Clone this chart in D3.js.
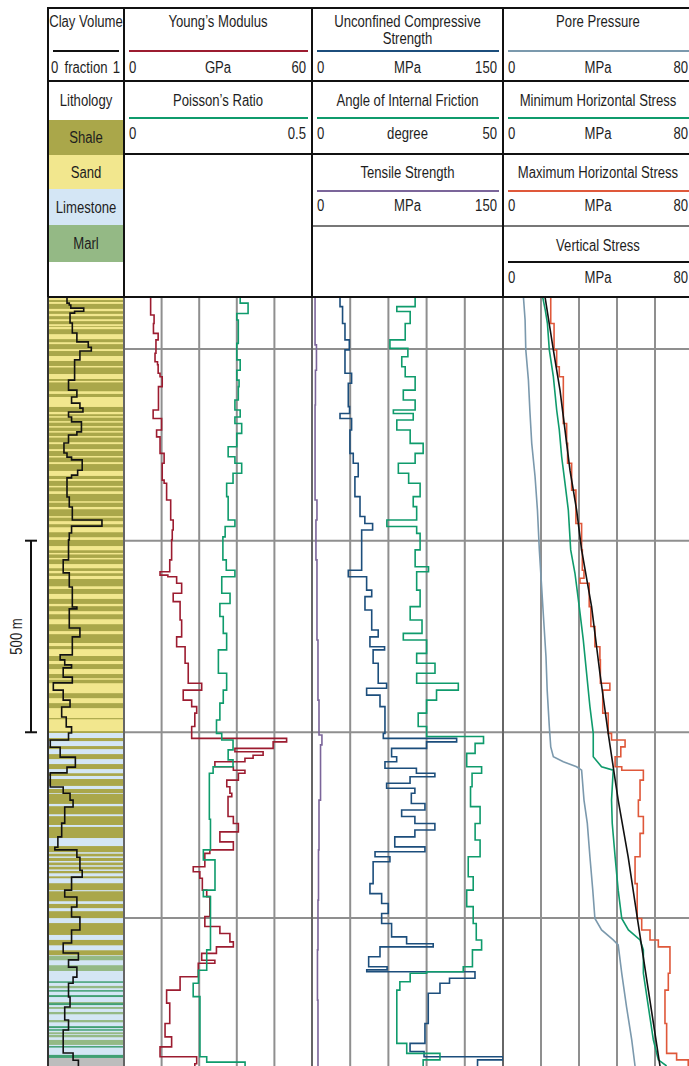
<!DOCTYPE html>
<html>
<head>
<meta charset="utf-8">
<script src="https://cdn.jsdelivr.net/npm/d3@7"></script>
<style>
  body { margin: 0; background: #fff; }
  svg text { font-family: "Liberation Sans", Arial, sans-serif; font-size: 16px; fill: #1e1e1e; }
</style>
</head>
<body>
<svg id="chart" width="689" height="1066"></svg>
<script>
// depth range of the log (m) and grid depths
const depthRange = [864, 2871];
const gridDepths = [1000, 1500, 2000, 2485];
const scaleBar = [1500, 2000];

// lithology: [top, base, type] (later entries drawn on top)
const lithoLegend = ["Shale", "Sand", "Limestone", "Marl"];
const lithology = [
  [860, 2002, "Shale"], [2002, 2850, "Limestone"], [2850, 2880, "None"],
  [864, 872, "Sand"], [877, 882, "Sand"], [895, 901, "Sand"], [908, 914, "Sand"], [922, 927, "Sand"],
  [935, 940, "Sand"], [942, 948, "Sand"], [961, 974, "Sand"], [982, 987, "Sand"], [1000, 1005, "Sand"],
  [1018, 1031, "Sand"], [1044, 1047, "Sand"], [1065, 1078, "Sand"], [1083, 1086, "Sand"], [1110, 1117, "Sand"],
  [1125, 1151, "Sand"], [1164, 1170, "Sand"], [1175, 1177, "Sand"], [1188, 1190, "Sand"], [1201, 1203, "Sand"],
  [1214, 1217, "Sand"], [1227, 1230, "Sand"], [1243, 1248, "Sand"], [1261, 1266, "Sand"], [1279, 1282, "Sand"],
  [1295, 1300, "Sand"], [1318, 1331, "Sand"], [1339, 1344, "Sand"], [1357, 1360, "Sand"], [1371, 1378, "Sand"],
  [1397, 1399, "Sand"], [1412, 1418, "Sand"], [1436, 1438, "Sand"], [1449, 1457, "Sand"], [1465, 1478, "Sand"],
  [1491, 1498, "Sand"], [1514, 1525, "Sand"], [1532, 1535, "Sand"], [1545, 1548, "Sand"], [1561, 1572, "Sand"],
  [1579, 1585, "Sand"], [1592, 1600, "Sand"], [1619, 1626, "Sand"], [1639, 1652, "Sand"], [1665, 1671, "Sand"],
  [1684, 1692, "Sand"], [1705, 1718, "Sand"], [1736, 1744, "Sand"], [1767, 1775, "Sand"], [1783, 1801, "Sand"],
  [1814, 1822, "Sand"], [1835, 1848, "Sand"], [1859, 1861, "Sand"], [1872, 1898, "Sand"], [1911, 1924, "Sand"],
  [1937, 1963, "Sand"], [1966, 1997, "Sand"],
  [2015, 2023, "Shale"], [2036, 2044, "Shale"], [2057, 2070, "Shale"], [2083, 2096, "Shale"], [2107, 2114, "Shale"],
  [2122, 2140, "Shale"], [2148, 2159, "Shale"], [2161, 2187, "Shale"], [2193, 2214, "Shale"], [2219, 2242, "Shale"],
  [2247, 2276, "Shale"], [2297, 2368, "Shale"], [2313, 2315, "Limestone"], [2324, 2326, "Limestone"],
  [2336, 2338, "Limestone"], [2347, 2349, "Limestone"], [2358, 2360, "Limestone"],
  [2376, 2381, "Shale"], [2394, 2412, "Shale"], [2415, 2441, "Shale"],
  [2448, 2459, "Shale"], [2467, 2485, "Shale"], [2498, 2529, "Shale"], [2542, 2556, "Shale"], [2569, 2582, "Shale"],
  [2584, 2595, "Marl"], [2608, 2623, "Marl"], [2662, 2668, "Marl"], [2704, 2709, "Marl"], [2717, 2722, "Marl"],
  [2730, 2736, "Marl"], [2751, 2757, "Marl"], [2783, 2788, "Marl"], [2790, 2796, "Marl"], [2803, 2816, "Marl"],
  [2650, 2652, "DarkMarl"], [2673, 2676, "DarkMarl"], [2686, 2691, "DarkMarl"], [2707, 2712, "DarkMarl"],
  [2767, 2772, "DarkMarl"], [2775, 2777, "DarkMarl"], [2819, 2822, "DarkMarl"], [2842, 2850, "DarkMarl"]
];
const lithoColors = { Shale: "#aaa74a", Sand: "#f2e78e", Limestone: "#d4e6f5", Marl: "#94b985", DarkMarl: "#41a073", None: "#bdbdbd" };

// curves: [depth (m), value]
const clayVolume = [
  [864, 0.25], [880, 0.28], [885, 0.30], [893, 0.47], [901, 0.35], [906, 0.29], [932, 0.32], [958, 0.38],
  [981, 0.53], [995, 0.57], [1005, 0.42], [1028, 0.35], [1081, 0.27], [1107, 0.38], [1125, 0.31], [1141, 0.42],
  [1154, 0.46], [1164, 0.27], [1177, 0.31], [1190, 0.44], [1216, 0.38], [1224, 0.27], [1245, 0.21], [1271, 0.25],
  [1282, 0.31], [1289, 0.45], [1316, 0.39], [1329, 0.31], [1336, 0.25], [1386, 0.28], [1412, 0.32], [1446, 0.71],
  [1462, 0.31], [1480, 0.28], [1498, 0.27], [1550, 0.20], [1584, 0.28], [1621, 0.32], [1673, 0.38], [1678, 0.28],
  [1728, 0.42], [1751, 0.32], [1798, 0.16], [1811, 0.22], [1824, 0.31], [1832, 0.20], [1856, 0.32], [1871, 0.07],
  [1890, 0.20], [1916, 0.29], [1934, 0.18], [1960, 0.24], [1986, 0.31], [2002, 0.27], [2020, 0.03], [2039, 0.16],
  [2065, 0.36], [2091, 0.25], [2106, 0.03], [2143, 0.20], [2159, 0.29], [2177, 0.33], [2195, 0.22], [2237, 0.18],
  [2273, 0.13], [2300, 0.09], [2307, 0.38], [2326, 0.42], [2360, 0.45], [2378, 0.31], [2412, 0.22], [2430, 0.38],
  [2456, 0.31], [2482, 0.42], [2516, 0.31], [2550, 0.20], [2576, 0.40], [2594, 0.27], [2613, 0.38], [2639, 0.33],
  [2655, 0.27], [2691, 0.29], [2717, 0.22], [2751, 0.27], [2777, 0.20], [2837, 0.33], [2856, 0.40], [2871, 0.40]
];
const youngsModulus = [
  [864, 8.5], [911, 9.6], [933, 9.4], [959, 10.9], [976, 10.2], [1011, 9.9], [1033, 10.7], [1041, 10.9],
  [1063, 11.5], [1072, 12.2], [1098, 11.0], [1159, 9.3], [1181, 12.0], [1211, 10.4], [1229, 11.5], [1272, 12.8],
  [1298, 12.2], [1342, 12.8], [1350, 13.6], [1394, 14.9], [1446, 15.7], [1472, 15.4], [1498, 15.2], [1550, 14.6],
  [1581, 11.5], [1590, 14.0], [1594, 16.8], [1611, 18.4], [1637, 15.7], [1659, 17.9], [1707, 18.4], [1751, 16.8],
  [1777, 19.5], [1820, 20.5], [1872, 24.8], [1890, 18.9], [1916, 21.6], [1933, 23.2], [1950, 22.6], [1985, 21.6],
  [2016, 51.9], [2025, 47.6], [2042, 35.4], [2051, 44.4], [2060, 41.2], [2068, 38.6], [2077, 29.0], [2090, 34.9],
  [2099, 38.6], [2107, 36.5], [2125, 32.8], [2142, 33.8], [2159, 34.4], [2168, 33.2], [2220, 34.9], [2238, 36.5],
  [2260, 30.6], [2286, 34.9], [2307, 27.4], [2316, 25.8], [2351, 22.1], [2364, 24.2], [2381, 25.0], [2412, 26.4],
  [2429, 27.4], [2481, 25.8], [2507, 30.6], [2525, 33.8], [2547, 34.9], [2560, 29.5], [2577, 24.8], [2595, 29.0],
  [2603, 23.7], [2638, 17.9], [2673, 13.6], [2707, 14.6], [2760, 13.1], [2795, 15.2], [2821, 11.5], [2847, 23.2],
  [2865, 22.6], [2871, 22.6]
];
const poissonsRatio = [
  [864, 0.309], [880, 0.33], [907, 0.30], [924, 0.304], [985, 0.30], [1028, 0.309], [1055, 0.30], [1081, 0.306],
  [1098, 0.304], [1133, 0.295], [1159, 0.309], [1177, 0.295], [1194, 0.313], [1220, 0.30], [1255, 0.277],
  [1281, 0.295], [1298, 0.313], [1324, 0.29], [1350, 0.273], [1385, 0.277], [1446, 0.295], [1463, 0.269],
  [1490, 0.263], [1550, 0.272], [1577, 0.295], [1594, 0.26], [1637, 0.282], [1664, 0.255], [1698, 0.264],
  [1742, 0.273], [1785, 0.251], [1846, 0.273], [1890, 0.264], [1924, 0.255], [1968, 0.246], [2003, 0.26],
  [2020, 0.29], [2046, 0.277], [2072, 0.29], [2090, 0.237], [2107, 0.227], [2227, 0.23], [2307, 0.211],
  [2333, 0.242], [2412, 0.211], [2429, 0.23], [2568, 0.22], [2621, 0.198], [2655, 0.184], [2690, 0.202],
  [2847, 0.22], [2861, 0.322], [2871, 0.322]
];
const ucs = [
  [864, 22], [889, 24], [933, 25.9], [976, 29.3], [1002, 25.9], [1063, 31.1], [1089, 28.5], [1150, 29.5],
  [1168, 22], [1181, 31.1], [1211, 29.8], [1272, 32.4], [1298, 36.3], [1333, 33.7], [1385, 37.7], [1437, 41.5],
  [1455, 47.6], [1472, 39], [1577, 28.5], [1594, 42.9], [1629, 46.9], [1646, 41.6], [1681, 46.9], [1733, 52],
  [1751, 45.5], [1777, 57], [1785, 48], [1820, 52], [1872, 58.6], [1885, 42.9], [1903, 53.4], [1933, 57.3],
  [2003, 56], [2016, 113.6], [2025, 90], [2042, 62.5], [2064, 66.5], [2077, 57.3], [2094, 82], [2107, 96.5],
  [2116, 77], [2133, 58.6], [2146, 80.8], [2159, 78], [2186, 88.7], [2203, 70.4], [2220, 80.8], [2238, 96.5],
  [2255, 80.8], [2273, 65], [2299, 88.7], [2312, 49.5], [2325, 61.2], [2338, 48], [2395, 45.5], [2421, 54.7],
  [2447, 59.9], [2473, 54.7], [2499, 62.5], [2534, 74.3], [2552, 95.2], [2560, 53.4], [2586, 44.5], [2612, 59],
  [2620, 43], [2625, 128], [2642, 108], [2655, 100.5], [2681, 91.3], [2760, 88.7], [2812, 77], [2833, 88],
  [2847, 150], [2855, 130], [2871, 130]
];
const frictionAngle = [
  [864, 27], [889, 22.2], [902, 25.7], [933, 24.4], [976, 20.4], [998, 25.1], [1020, 23.5], [1046, 24.4],
  [1072, 27], [1107, 23.9], [1133, 27], [1159, 21.3], [1168, 26.5], [1185, 22.2], [1211, 25.7], [1246, 29.1],
  [1272, 27], [1298, 22.6], [1324, 25.3], [1350, 28.3], [1385, 26.5], [1411, 27.4], [1446, 19.6], [1463, 27.4],
  [1481, 28.3], [1524, 27], [1568, 30.5], [1581, 27.4], [1629, 28.3], [1672, 25.7], [1707, 28.8], [1742, 23.9],
  [1759, 30], [1794, 27.4], [1820, 32.2], [1846, 27.4], [1872, 38.3], [1890, 32.6], [1916, 30], [1950, 27.8],
  [1985, 30], [2011, 44.9], [2029, 42.7], [2055, 40.5], [2090, 44.4], [2107, 41.9], [2142, 41.5], [2194, 44],
  [2238, 42.7], [2281, 44], [2325, 40.9], [2377, 42.2], [2412, 40.5], [2455, 42.2], [2499, 43], [2542, 44.4],
  [2568, 42], [2612, 39.6], [2625, 30], [2629, 25.7], [2651, 23], [2673, 22.2], [2812, 24.8], [2838, 33.5],
  [2855, 29.1], [2871, 29.1]
];
const tensileStrength = [
  [864, 2.4], [989, 3.5], [1055, 2.7], [1146, 2.4], [1394, 3.9], [1446, 3.1], [1550, 3.9], [1759, 4.7],
  [1916, 5.5], [2007, 7.8], [2033, 6.7], [2177, 5.5], [2307, 5.1], [2438, 4.7], [2568, 4.3], [2699, 4.7], [2871, 4.7]
];
const porePressure = [
  [864, 8.6], [924, 9.3], [1002, 9.6], [1081, 10.7], [1159, 11.3], [1246, 12.1], [1333, 13.5], [1420, 14.5],
  [1524, 15.3], [1724, 17.3], [1803, 18.1], [1890, 18.6], [1985, 19.5], [2038, 20.1], [2064, 21.2], [2077, 25.4],
  [2090, 31], [2099, 33.1], [2177, 34.1], [2238, 35.5], [2325, 36.6], [2412, 37.8], [2486, 38.7], [2516, 41.5],
  [2542, 46.4], [2555, 48.5], [2629, 50], [2716, 52], [2803, 54.2], [2871, 55.6]
];
const minHorizontalStress = [
  [864, 16.7], [898, 17.8], [933, 18.7], [1002, 19.5], [1072, 21.2], [1159, 22.6], [1211, 23.7], [1281, 24.7],
  [1350, 26.1], [1420, 27.5], [1524, 28.5], [1585, 30.3], [1672, 32.1], [1759, 33.8], [1846, 35.2], [1933, 36.6],
  [2003, 38], [2064, 38], [2090, 41.5], [2099, 46.4], [2177, 45.7], [2238, 46], [2325, 47.2], [2412, 48.5],
  [2486, 50], [2516, 52.8], [2542, 57.7], [2568, 59.1], [2629, 59.1], [2716, 61.2], [2803, 63.3], [2855, 65.4],
  [2871, 68.9]
];
const maxHorizontalStress = [
  [864, 20.1], [933, 21.5], [1002, 22.6], [1046, 23.7], [1072, 25.4], [1133, 25.4], [1194, 26.8], [1246, 27.2],
  [1298, 28.9], [1368, 30.7], [1455, 33.1], [1524, 33.4], [1577, 34.1], [1598, 32.4], [1611, 36.3], [1672, 37],
  [1724, 38.7], [1777, 40.8], [1811, 41], [1872, 45], [1890, 42], [1950, 44.3], [2003, 45.7], [2020, 51.4],
  [2038, 49.6], [2064, 47.2], [2090, 50], [2099, 59.1], [2125, 57.7], [2177, 57], [2220, 59.1], [2264, 57.7],
  [2325, 55.6], [2395, 56.5], [2486, 58.4], [2516, 61.9], [2542, 65.4], [2560, 70.3], [2629, 69.6], [2673, 68.2],
  [2760, 68.9], [2838, 73.1], [2855, 78], [2871, 78]
];
const verticalStress = [
  [864, 17.7], [1002, 21.2], [1107, 24], [1211, 26.1], [1316, 28.2], [1420, 31], [1524, 33.1], [1672, 37.3],
  [1846, 40.8], [2003, 44.3], [2177, 48.5], [2325, 52.7], [2499, 56.9], [2673, 61.2], [2871, 66.1]
];

// tracks and their scale ranges
const trackEdges = [48, 124, 312, 503, 693];
const gridTicks = [null, [12, 24, 36, 48], [30, 60, 90, 120], [16, 32, 48, 64]];
const trackMax = [1, 60, 150, 80];
const titleY = [27, 106, 178, 251], lineY = [51, 118, 191, 262], scaleY = [73, 139, 211, 283];

const curves = [
  { name: ["Clay Volume"], data: clayVolume, track: 0, row: 0, max: 1, unit: "fraction", color: "#111", step: true },
  { name: ["Young\u2019s Modulus"], data: youngsModulus, track: 1, row: 0, max: 60, unit: "GPa", color: "#9c1c30", step: true },
  { name: ["Poisson\u2019s Ratio"], data: poissonsRatio, track: 1, row: 1, max: 0.5, unit: "", color: "#0f9b6c", step: true },
  { name: ["Unconfined Compressive", "Strength"], data: ucs, track: 2, row: 0, max: 150, unit: "MPa", color: "#1c4e7c", step: true },
  { name: ["Angle of Internal Friction"], data: frictionAngle, track: 2, row: 1, max: 50, unit: "degree", color: "#0f9b6c", step: true },
  { name: ["Tensile Strength"], data: tensileStrength, track: 2, row: 2, max: 150, unit: "MPa", color: "#7b659a", step: true },
  { name: ["Pore Pressure"], data: porePressure, track: 3, row: 0, max: 80, unit: "MPa", color: "#7b99ad", step: false },
  { name: ["Minimum Horizontal Stress"], data: minHorizontalStress, track: 3, row: 1, max: 80, unit: "MPa", color: "#0f9b6c", step: false },
  { name: ["Maximum Horizontal Stress"], data: maxHorizontalStress, track: 3, row: 2, max: 80, unit: "MPa", color: "#df583a", step: true },
  { name: ["Vertical Stress"], data: verticalStress, track: 3, row: 3, max: 80, unit: "MPa", color: "#111", step: false }
];

const svg = d3.select("#chart");
const y = d3.scaleLinear().domain(depthRange).range([297, 1066]);
const dataTop = 297, dataBottom = 1066;
const narrow = 0.82; // condensed look of the original lettering

function label(g, x, yy, str, anchor, rot) {
  return g.append("text")
    .attr("transform", `translate(${x},${yy})${rot ? " rotate(" + rot + ")" : ""} scale(${narrow},1)`)
    .attr("text-anchor", anchor || "start").text(str);
}

// clip paths per track
const defs = svg.append("defs");
trackEdges.slice(0, 4).forEach((x0, i) => {
  defs.append("clipPath").attr("id", "clip" + i)
    .append("rect").attr("x", x0).attr("y", dataTop).attr("width", trackEdges[i + 1] - x0).attr("height", dataBottom - dataTop);
});

// lithology column
const lithoG = svg.append("g").attr("clip-path", "url(#clip0)");
lithoG.selectAll("rect").data(lithology).join("rect")
  .attr("x", trackEdges[0]).attr("width", trackEdges[1] - trackEdges[0])
  .attr("y", d => y(d[0])).attr("height", d => Math.max(1.5, y(d[1]) - y(d[0])))
  .attr("fill", d => lithoColors[d[2]]);

// grid
const gridG = svg.append("g");
[1, 2, 3].forEach(t => {
  const xs = d3.scaleLinear().domain([0, trackMax[t]]).range([trackEdges[t], trackEdges[t + 1]]);
  gridG.selectAll(null).data(gridTicks[t]).join("line")
    .attr("x1", d => xs(d)).attr("x2", d => xs(d))
    .attr("y1", dataTop).attr("y2", dataBottom)
    .attr("stroke", "#8f8f8f").attr("stroke-width", 2);
});
gridG.selectAll(null).data(gridDepths).join("line")
  .attr("x1", trackEdges[1]).attr("x2", 689)
  .attr("y1", d => y(d)).attr("y2", d => y(d))
  .attr("stroke", "#8f8f8f").attr("stroke-width", 2);

// track borders in data area
svg.append("g").selectAll("line").data(trackEdges.slice(0, 4)).join("line")
  .attr("x1", d => d).attr("x2", d => d).attr("y1", dataTop).attr("y2", dataBottom)
  .attr("stroke", (d, i) => i === 0 ? "#333" : "#666").attr("stroke-width", 2);

// curves
curves.forEach(c => {
  const xs = d3.scaleLinear().domain([0, c.max]).range([trackEdges[c.track], trackEdges[c.track + 1]]);
  const line = d3.line().x(d => xs(d[1])).y(d => y(d[0]))
    .curve(c.step ? d3.curveStepBefore : d3.curveLinear);
  svg.append("path").datum(c.data)
    .attr("clip-path", "url(#clip" + c.track + ")")
    .attr("d", line).attr("fill", "none")
    .attr("stroke", c.color).attr("stroke-width", 1.6)
    .attr("stroke-linejoin", "miter");
});

// header
const head = svg.append("g");
head.append("rect").attr("x", 48).attr("y", 8).attr("width", 700).attr("height", 289).attr("fill", "#fff");
curves.forEach(c => {
  const x0 = trackEdges[c.track], x1 = Math.min(trackEdges[c.track + 1], 689);
  const cx = (trackEdges[c.track] + trackEdges[c.track + 1]) / 2;
  const pad = c.track === 0 ? 3 : 5;
  c.name.forEach((t, k) => label(head, cx, titleY[c.row] + k * 17, t, "middle"));
  head.append("line")
    .attr("x1", x0 + 5).attr("x2", c.track === 0 ? x1 - 5 : trackEdges[c.track + 1] - 4)
    .attr("y1", lineY[c.row]).attr("y2", lineY[c.row])
    .attr("stroke", c.color).attr("stroke-width", 2.2);
  label(head, x0 + pad, scaleY[c.row], "0");
  label(head, trackEdges[c.track + 1] - (c.track === 3 ? 5 : c.track === 0 ? 4 : 6), scaleY[c.row], c.max, "end");
  if (c.unit) label(head, cx, scaleY[c.row], c.unit, "middle");
});

// lithology legend
const legendTop = 120, legendH = [35, 34, 36, 37];
label(head, 86, 106, "Lithology", "middle");
let ly = legendTop;
lithoLegend.forEach((name, i) => {
  head.append("rect").attr("x", 48).attr("y", ly).attr("width", 76).attr("height", legendH[i]).attr("fill", lithoColors[name]);
  label(head, 86, ly + legendH[i] / 2 + 5.5, name, "middle");
  ly += legendH[i];
});

// header frame
const frame = head.append("g").attr("stroke", "#111").attr("stroke-width", 2);
frame.append("line").attr("x1", 48).attr("x2", 689).attr("y1", 8).attr("y2", 8);
frame.append("line").attr("x1", 48).attr("x2", 689).attr("y1", 81).attr("y2", 81);
frame.append("line").attr("x1", 124).attr("x2", 689).attr("y1", 154).attr("y2", 154);
frame.append("line").attr("x1", 312).attr("x2", 689).attr("y1", 226).attr("y2", 226).attr("stroke", "#777");
frame.append("line").attr("x1", 48).attr("x2", 689).attr("y1", 297).attr("y2", 297);
trackEdges.slice(0, 4).forEach(x => {
  frame.append("line").attr("x1", x).attr("x2", x).attr("y1", 7).attr("y2", 297);
});

// depth scale bar
const bar = svg.append("g").attr("stroke", "#111").attr("stroke-width", 2);
bar.append("line").attr("x1", 31).attr("x2", 31).attr("y1", y(scaleBar[0])).attr("y2", y(scaleBar[1]));
scaleBar.forEach(d => bar.append("line").attr("x1", 25).attr("x2", 37).attr("y1", y(d)).attr("y2", y(d)));
label(svg, 22, (y(scaleBar[0]) + y(scaleBar[1])) / 2, (scaleBar[1] - scaleBar[0]) + " m", "middle", -90);
</script>
</body>
</html>
